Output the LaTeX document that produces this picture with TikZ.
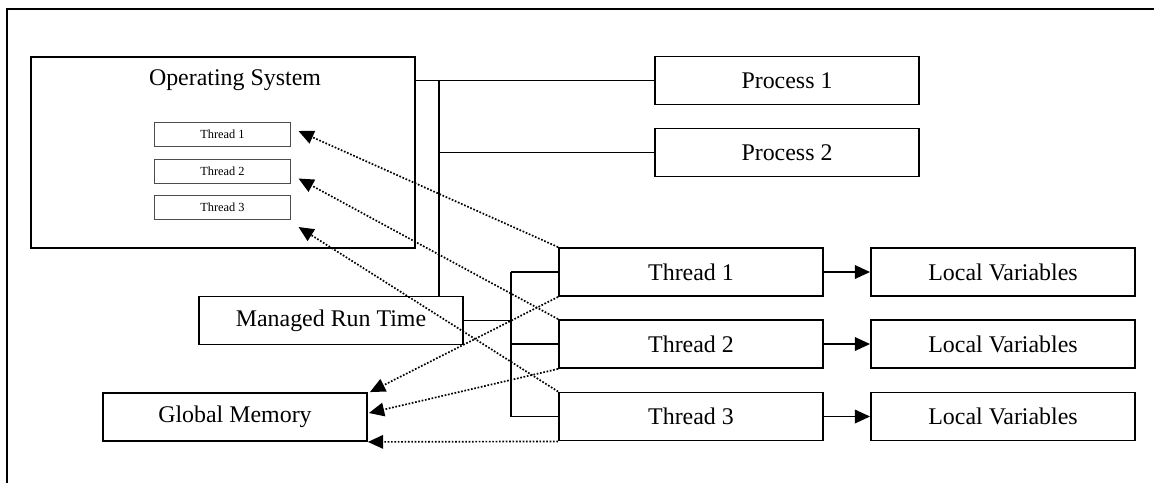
\documentclass[tikz,border=0pt]{standalone}
\usepackage{fontspec}
\setmainfont{Liberation Serif}
\usetikzlibrary{arrows.meta, calc}

\tikzset{
	box/.style = {draw, line width=1.3pt, minimum width=6.6cm, minimum height=1.2cm,
		inner sep=0pt, font=\fontsize{17}{20}\selectfont},
	smallbox/.style = {draw=black!70, line width=0.7pt, minimum width=3.375cm,
		minimum height=0.6cm, inner sep=0pt, font=\fontsize{8.8}{10}\selectfont},
	link/.style = {line width=1.2pt},
	ptr/.style = {line width=1.2pt, dash pattern=on 1.2pt off 1.2pt,
		-{Triangle[length=0.38cm, width=0.34cm]}},
	solidptr/.style = {line width=1.2pt, -{Triangle[length=0.38cm, width=0.34cm]}}
}

\begin{document}
\begin{tikzpicture}[x=0.025cm, y=-0.025cm]
\useasboundingbox (0,0) rectangle (1154,483);
% frame
\draw[line width=1.5pt] (1154,9) -- (7,9) -- (7,483);

% operating system
\node[draw, line width=1.3pt, minimum width=9.6cm, minimum height=4.775cm]
	(os) at (223,152.5) {};
\node[font=\fontsize{17}{20}\selectfont] (ostitle) at (235,80) {Operating System};
\foreach \i/\y in {1/134, 2/171, 3/207.5}
	\node[smallbox] (ost\i) at (222.5,\y) {Thread \i};

% boxes
\node[box] (p1) at (787,80.5) {Process 1};
\node[box] (p2) at (787,152.5) {Process 2};
\node[box] (mrt) at (331,320.5) {Managed Run Time};
\node[box] (gm) at (235,417) {Global Memory};
\foreach \i/\y in {1/272, 2/344, 3/416.5} {
	\node[box] (t\i) at (691,\y) {Thread \i};
	\node[box] (lv\i) at (1003,\y) {Local Variables};
}

% solid links
\coordinate (osbus) at (439,80.5);
\draw[link] (os.east |- p1.west) -- (p1.west);
\draw[link] (osbus) -- (osbus |- mrt.north);
\draw[link] (osbus |- p2.west) -- (p2.west);
\coordinate (tbus) at (511,320.5);
\draw[link] (mrt.east) -- (tbus);
\draw[link] (tbus |- t1.west) -- (tbus |- t3.west);
\foreach \i in {1,2,3}
	\draw[link] (tbus |- t\i.west) -- (t\i.west);
\foreach \i in {1,2,3}
	\draw[solidptr] (t\i.east) -- (lv\i.west);

% dotted pointers
\draw[ptr] (t1.north west) -- ($(ost1.east)+(8,-3)$);
\draw[ptr] (t2.north west) -- ($(ost2.east)+(8,7.5)$);
\draw[ptr] (t3.north west) -- ($(ost3.south east)+(8,7)$);
\draw[ptr] (t1.south west) -- ($(gm.north east)+(2,0)$);
\draw[ptr] (t2.south west) -- ($(gm.east)+(1,-4)$);
\draw[ptr] (t3.south west) -- (gm.south east);
\end{tikzpicture}
\end{document}
